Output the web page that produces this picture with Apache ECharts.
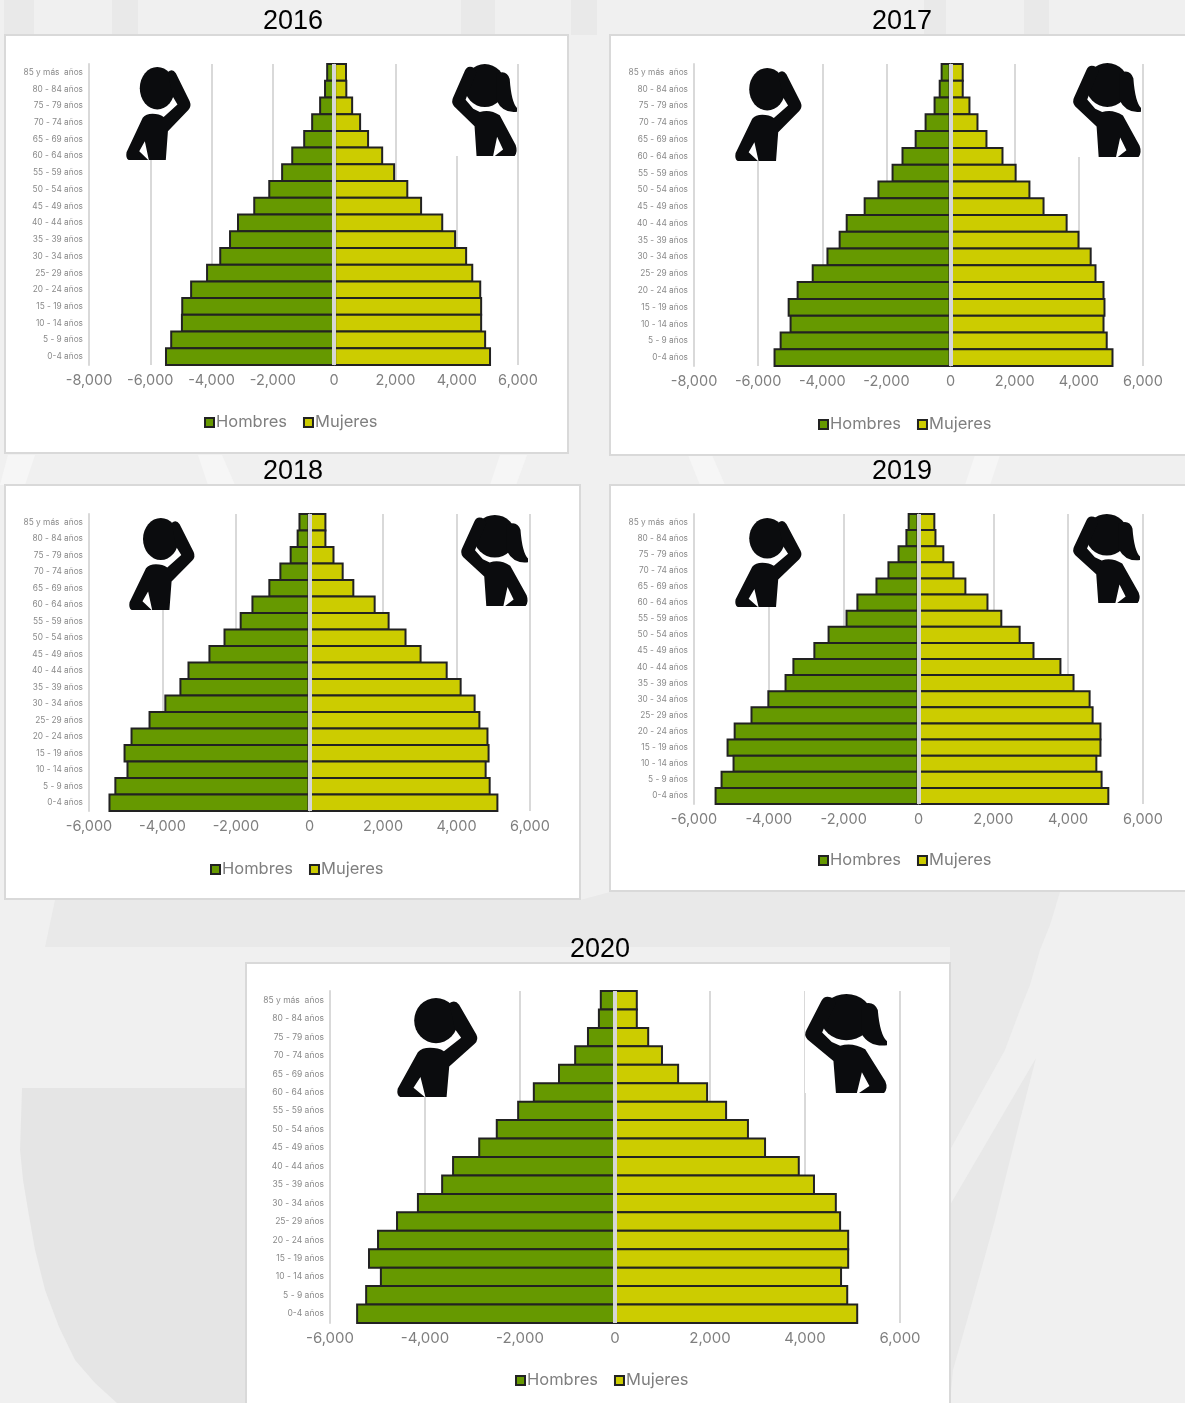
<!DOCTYPE html>
<html><head><meta charset="utf-8">
<style>html,body{margin:0;padding:0;background:#f0f0f0}#c{width:1185px;height:1403px}</style>
<script src="https://cdn.jsdelivr.net/npm/echarts@6/dist/echarts.min.js"></script>
</head><body><div id="c"></div>
<script>
const ages = ['85 y más  años','80 - 84 años','75 - 79 años','70 - 74 años','65 - 69 años','60 - 64 años','55 - 59 años','50 - 54 años','45 - 49 años','40 - 44 años','35 - 39 años','30 - 34 años','25- 29 años','20 - 24 años','15 - 19 años','10 - 14 años','5 - 9 años','0-4 años'];
const years = ['2016','2017','2018','2019','2020'];
const hombres2016 = [-260,-330,-490,-750,-1010,-1400,-1730,-2150,-2640,-3170,-3430,-3750,-4180,-4700,-4990,-5000,-5350,-5520];
const mujeres2016 = [420,430,620,880,1140,1600,1990,2420,2870,3560,3980,4340,4540,4800,4830,4830,4960,5120];
const hombres2017 = [-310,-370,-530,-810,-1120,-1530,-1840,-2280,-2710,-3270,-3490,-3870,-4330,-4800,-5080,-5020,-5330,-5520];
const mujeres2017 = [410,410,620,870,1150,1650,2060,2490,2930,3650,4020,4400,4550,4800,4830,4800,4900,5080];
const hombres2018 = [-300,-350,-540,-820,-1120,-1580,-1900,-2340,-2750,-3320,-3540,-3950,-4380,-4870,-5060,-4980,-5310,-5470];
const mujeres2018 = [460,460,680,930,1220,1800,2180,2640,3050,3760,4140,4520,4650,4870,4900,4820,4930,5140];
const hombres2019 = [-290,-350,-560,-830,-1150,-1660,-1950,-2430,-2810,-3370,-3580,-4040,-4490,-4940,-5130,-4970,-5290,-5450];
const mujeres2019 = [450,480,690,960,1280,1870,2240,2730,3100,3820,4170,4600,4680,4890,4890,4780,4920,5100];
const hombres2020 = [-320,-360,-590,-860,-1200,-1730,-2060,-2510,-2880,-3430,-3660,-4170,-4610,-5010,-5200,-4950,-5260,-5450];
const mujeres2020 = [480,480,720,1010,1350,1960,2360,2820,3180,3890,4210,4670,4760,4930,4930,4780,4910,5120];
const hombres = [hombres2016,hombres2017,hombres2018,hombres2019,hombres2020];
const mujeres = [mujeres2016,mujeres2017,mujeres2018,mujeres2019,mujeres2020];

// layout of each small chart
const layout = [
 {box:[5,35,563,418], grid:[89,64,518,365], min:-8000, tx:293, ty:22, lx:204, ly:421, man:[126,67,191,160], woman:[452,64,517,156], tick:14.5},
 {box:[610,35,580,420], grid:[694,64,1143,366], min:-8000, tx:902, ty:22, lx:818, ly:423, man:[735,68,802,161], woman:[1073,63,1141,157], tick:14.5},
 {box:[5,485,575,414], grid:[89,514,530,811], min:-6000, tx:293, ty:472, lx:210, ly:868, man:[129,518,195,610], woman:[461,515,528,606], tick:14.5},
 {box:[610,485,580,406], grid:[694,514,1143,804], min:-6000, tx:902, ty:472, lx:818, ly:859, man:[735,518,802,607], woman:[1073,514,1140,603], tick:14.5},
 {box:[246,963,704,445], grid:[330,991,900,1323], min:-6000, tx:600, ty:950, lx:515, ly:1379, man:[397,998,478,1097], woman:[805,994,887,1093], tick:15}
];
const AXIS_FONT = 'Inter, "Noto Sans", sans-serif';
const C_MEN = '#669900', C_WOMEN = '#cccc00', C_EDGE = '#222222', C_GRID = '#d9d9d9', C_TXT = '#7f7f7f', C_ICON = '#0b0c0e';

// silhouettes, drawn in their own picture coordinates
const manBox = {x:470,y:112,w:245,h:298};
const manPaths = [
 'M522 180A66 68 0 1 1 654 180A66 68 0 1 1 522 180Z',
 'M628 128Q645 115 658 132L710 222Q718 238 705 250L628 318L620 410L556 410L541 350L520 382L554 410L480 410Q468 405 472 385L533 275Q545 262 570 262Q595 262 612 272L664 232L645 205Z'
];
const womanBox = {x:456,y:70,w:196,h:278};
const womanPaths = [
 'M493 135A62 65 0 1 1 617 135A62 65 0 1 1 493 135Z',
 'M590 100Q620 85 630 115Q635 185 652 203L652 214Q610 220 590 180Z',
 'M510 78Q525 78 530 95L500 170L497 178L520 205L540 215Q570 205 600 225L648 315Q655 335 645 348L585 348L610 328L592 290L580 348L530 348L524 258L462 198Q452 185 460 170L495 90Q500 78 510 78Z'
];
const shapeName = {};
manPaths.concat(womanPaths).forEach((p,i)=>{
  shapeName[p]='sil'+i;
  echarts.graphic.registerShape('sil'+i, echarts.graphic.extendPath(p));
});
function icon(b, area, paths){
  const sx=(area[2]-area[0])/b.w, sy=(area[3]-area[1])/b.h;
  return {type:'group', x:area[0]-b.x*sx, y:area[1]-b.y*sy, scaleX:sx, scaleY:sy, z:3, silent:true,
    children:[{type:'rect', z:3, shape:{x:b.x,y:b.y-8/sy,width:b.w,height:b.h+8/sy}, style:{fill:'#fff'}}]
      .concat(paths.map(p=>({type:shapeName[p], z:4, style:{fill:C_ICON}})))};
}
// faint watermark of the slide behind the charts
const poly = (pts,fill)=>({type:'polygon', z:-20, silent:true, shape:{points:pts}, style:{fill}});
const watermark = [
 poly([[4,0],[34,0],[34,35],[4,35]],'#e9e9e9'), poly([[112,0],[138,0],[138,35],[112,35]],'#e9e9e9'),
 poly([[461,0],[495,0],[495,35],[461,35]],'#e9e9e9'), poly([[571,0],[597,0],[597,35],[571,35]],'#e9e9e9'),
 poly([[924,0],[946,0],[946,35],[924,35]],'#e9e9e9'), poly([[1024,0],[1049,0],[1049,35],[1024,35]],'#e9e9e9'),
 poly([[8,455],[35,455],[25,485],[0,485]],'#f6f6f6'), poly([[198,455],[222,455],[235,485],[208,485]],'#f6f6f6'),
 poly([[500,455],[527,455],[516,485],[490,485]],'#f6f6f6'), poly([[688,455],[712,455],[725,485],[700,485]],'#f6f6f6'),
 poly([[975,455],[1000,455],[990,485],[965,485]],'#f6f6f6'),
 poly([[55,900],[580,900],[610,892],[1060,892],[1050,925],[1040,950],[1030,985],[1020,1010],[1005,1050],[980,1095],[950,1150],[950,947],[45,947]],'#e9e9e9'),
 poly([[22,1088],[246,1088],[246,1403],[117,1403],[95,1383],[75,1360],[59,1327],[45,1290],[35,1250],[28,1210],[23,1180],[20,1150]],'#e5e5e5'),
 poly([[1036,1058],[1020,1120],[995,1220],[970,1310],[953,1370],[950,1403],[950,1205]],'#e8e8e8')
];
const panels = layout.map(l=>({type:'rect', z:-10, silent:true, shape:{x:l.box[0],y:l.box[1],width:l.box[2],height:l.box[3]}, style:{fill:'#ffffff',stroke:C_GRID,lineWidth:2}}));
const icons = layout.flatMap(l=>[icon(manBox,l.man,manPaths), icon(womanBox,l.woman,womanPaths)]);
const rowPx = l => (l.grid[3]-l.grid[1])/ages.length + 2;

const option = {
  animation:false,
  backgroundColor:'#f0f0f0',
  graphic:{elements:watermark.concat(panels,icons)},
  title:layout.map((l,i)=>({text:years[i], left:l.tx, top:l.ty, padding:0, textAlign:'center', textVerticalAlign:'middle',
    textStyle:{fontFamily:'"Liberation Sans",Arial,sans-serif',fontSize:27,fontWeight:'normal',color:'#000'}})),
  legend:layout.map(l=>({data:['Hombres','Mujeres'], left:l.lx, top:l.ly-7, itemWidth:9, itemHeight:9, itemGap:16, icon:'rect', padding:0,
    selectedMode:false, textStyle:{fontFamily:AXIS_FONT,fontSize:16.5,color:C_TXT,padding:[0,0,0,-3]}, itemStyle:{borderColor:C_EDGE,borderWidth:2}})),
  grid:layout.map(l=>({left:l.grid[0],top:l.grid[1],width:l.grid[2]-l.grid[0],height:l.grid[3]-l.grid[1],containLabel:false})),
  xAxis:layout.map((l,i)=>({type:'value',gridIndex:i,position:'bottom',min:l.min,max:6000,interval:2000,
    axisLine:{show:false,onZero:false},axisTick:{show:false},
    splitLine:{show:true,lineStyle:{color:C_GRID,width:2}},
    axisLabel:{margin:8,fontFamily:AXIS_FONT,fontSize:l.tick,color:C_TXT,formatter:v=>v.toLocaleString('en-US')}})),
  yAxis:layout.map((l,i)=>({type:'category',gridIndex:i,inverse:true,position:'left',data:ages,
    axisLine:{show:true,onZero:false,lineStyle:{color:C_GRID,width:2}},axisTick:{show:false},
    axisLabel:{interval:0,margin:6,fontFamily:AXIS_FONT,fontSize:i===4?8.5:8.3,color:'#8a8a8a'}})),
  series:layout.flatMap((l,i)=>[
    {name:'Hombres',type:'bar',xAxisIndex:i,yAxisIndex:i,data:hombres[i],barGap:'-100%',barWidth:rowPx(l),
      itemStyle:{color:C_MEN,borderColor:C_EDGE,borderWidth:2},z:4},
    {name:'Mujeres',type:'bar',xAxisIndex:i,yAxisIndex:i,data:mujeres[i],barGap:'-100%',barWidth:rowPx(l),
      itemStyle:{color:C_WOMEN,borderColor:C_EDGE,borderWidth:2},z:4,
      markLine:{silent:true,symbol:'none',label:{show:false},z:6,animation:false,
        lineStyle:{color:'#d6d6d6',width:4,type:'solid'},data:[{xAxis:0}]}}
  ])
};
const chart = echarts.init(document.getElementById('c'),null,{renderer:'canvas',width:1185,height:1403});
chart.setOption(option);
</script></body></html>
